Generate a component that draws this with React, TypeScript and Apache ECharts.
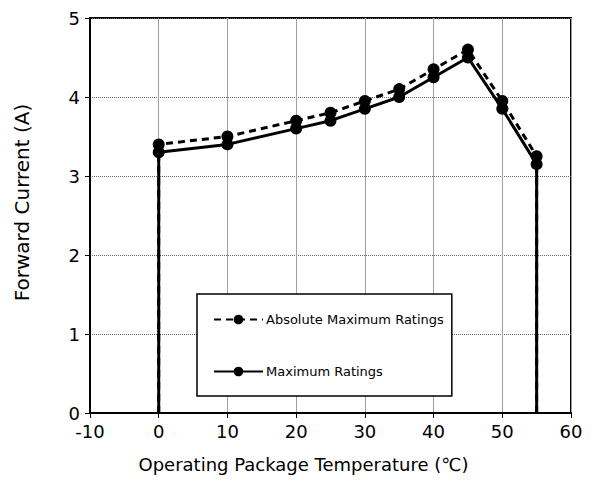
import React, { useEffect, useRef } from "react";
import * as echarts from "echarts";

// Temperature points (°C) and forward current limits (A)
const temperatures = [0, 10, 20, 25, 30, 35, 40, 45, 50, 55];
const absoluteMaxCurrent = [3.4, 3.5, 3.7, 3.8, 3.95, 4.1, 4.35, 4.6, 3.95, 3.25];
const maxCurrent = [3.3, 3.4, 3.6, 3.7, 3.85, 4.0, 4.25, 4.5, 3.85, 3.15];
const seriesNames = ["Absolute Maximum Ratings", "Maximum Ratings"];

const FONT = "DejaVu Sans";

// Each curve drops to zero at both ends of the operating range
function buildCurve(values: number[]) {
  const first = temperatures[0];
  const last = temperatures[temperatures.length - 1];
  return [
    { value: [first, 0], symbol: "none" },
    ...temperatures.map((t, i) => ({ value: [t, values[i]] })),
    { value: [last, 0], symbol: "none" },
  ];
}

export default function App() {
  const ref = useRef<HTMLDivElement>(null);

  useEffect(() => {
    if (!ref.current) return;
    const chart = echarts.init(ref.current, undefined, { renderer: "svg" });
    chart.setOption({
      animation: false,
      backgroundColor: "#fff",
      grid: {
        left: 90,
        top: 18,
        right: 27,
        bottom: 74,
        show: true,
        borderColor: "#000",
        borderWidth: 2,
      },
      legend: {
        orient: "vertical",
        left: 197,
        top: 294,
        itemWidth: 49,
        itemHeight: 12,
        itemGap: 39,
        padding: [19, 8, 18, 16],
        borderColor: "#000",
        borderWidth: 1.5,
        backgroundColor: "#fff",
        textStyle: { fontFamily: FONT, fontSize: 13, color: "#000", padding: [0, 0, 0, -2] },
        data: seriesNames,
      },
      xAxis: {
        type: "value",
        min: -10,
        max: 60,
        interval: 10,
        name: "Operating Package Temperature (℃)",
        nameLocation: "middle",
        nameGap: 42,
        nameTextStyle: { fontFamily: FONT, fontSize: 18, color: "#000", padding: [0, 54, 0, 0] },
        axisLine: { show: true, onZero: false, lineStyle: { color: "#000", width: 2 } },
        axisTick: { show: true, length: 5, lineStyle: { color: "#000", width: 1 } },
        axisLabel: { fontFamily: FONT, fontSize: 18, color: "#000", margin: 9 },
        splitLine: { show: true, lineStyle: { color: "#a0a0a0", width: 1, type: "solid" } },
      },
      yAxis: {
        type: "value",
        min: 0,
        max: 5,
        interval: 1,
        name: "Forward Current (A)",
        nameLocation: "middle",
        nameGap: 58,
        nameTextStyle: { fontFamily: FONT, fontSize: 20, color: "#000", padding: [0, 0, 0, 26] },
        axisLine: { show: true, onZero: false, lineStyle: { color: "#000", width: 2 } },
        axisTick: { show: true, length: 5, lineStyle: { color: "#000", width: 1 } },
        axisLabel: { fontFamily: FONT, fontSize: 18, color: "#000", margin: 10 },
        splitLine: { show: true, lineStyle: { color: "#666", width: 1, type: [1, 1] } },
      },
      series: [
        {
          name: seriesNames[0],
          type: "line",
          data: buildCurve(absoluteMaxCurrent),
          symbol: "circle",
          symbolSize: 12,
          itemStyle: { color: "#000" },
          lineStyle: { color: "#000", width: 3, type: [7, 5] },
          z: 3,
        },
        {
          name: seriesNames[1],
          type: "line",
          data: buildCurve(maxCurrent),
          symbol: "circle",
          symbolSize: 12,
          itemStyle: { color: "#000" },
          lineStyle: { color: "#000", width: 3, type: "solid" },
          z: 4,
        },
      ],
    });
    return () => chart.dispose();
  }, []);

  return (
    <div
      ref={ref}
      style={{ position: "absolute", left: 0, top: 0, width: 598, height: 487 }}
    />
  );
}
